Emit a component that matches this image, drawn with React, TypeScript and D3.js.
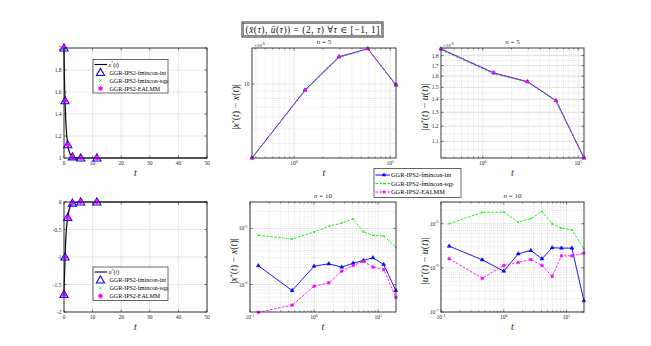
import React from "react";
import * as d3 from "d3";

// n = 5 nodes (linear panels)
const tNodes5 = [0, 0.365, 1.3, 2.94, 5.85, 11.5];
const xNodes5 = [2, 1.52, 1.12, 1.01, 1.0, 1.0];
const uNodes5 = [-1.68, -1.0, -0.28, -0.02, 0, 0];

// exact solution
const tStarX = [0, 0.15, 0.365, 0.7, 1.3, 2, 2.94, 4, 5.85, 50];
const xStar = [2, 1.74, 1.52, 1.3, 1.12, 1.045, 1.01, 1.003, 1.0, 1.0];
const tStarU = [0, 0.365, 0.7, 1.3, 2, 2.94, 5.85, 50];
const uStar = [-1.68, -1.0, -0.6, -0.28, -0.1, -0.02, 0, 0];

// n = 5 errors
const tLog5 = [0.365, 1.3, 2.94, 5.85, 11.5];
const errX5Int = [3.2e-6, 9.1e-6, 1.52e-5, 1.72e-5, 9.85e-6];
const errX5Sqp = [3.2e-6, 9.0e-6, 1.5e-5, 1.71e-5, 9.8e-6];
const errX5Ealmm = [3.2e-6, 9.1e-6, 1.52e-5, 1.72e-5, 9.85e-6];
const errU5Int = [1.87e-6, 1.63e-6, 1.55e-6, 1.39e-6, 1.0e-6];
const errU5Sqp = [1.86e-6, 1.62e-6, 1.545e-6, 1.385e-6, 1.0e-6];
const errU5Ealmm = [1.87e-6, 1.63e-6, 1.55e-6, 1.39e-6, 1.0e-6];

// n = 10 errors
const tLog10 = [0.135, 0.455, 1.0, 1.7, 2.7, 4.07, 5.9, 8.3, 12.2, 18.9];
const errX10Int = [2.16e-6, 7.8e-7, 2.12e-6, 2.34e-6, 2.04e-6, 2.4e-6, 2.68e-6, 2.99e-6, 2.28e-6, 7.8e-7];
const errX10Sqp = [7.5e-6, 6.5e-6, 8.6e-6, 1.09e-5, 1.24e-5, 1.47e-5, 8.6e-6, 7.5e-6, 7.3e-6, 4.6e-6];
const errX10Ealmm = [3.2e-7, 4.3e-7, 9.3e-7, 1.07e-6, 1.73e-6, 2.18e-6, 2.58e-6, 2.04e-6, 1.85e-6, 5.9e-7];
const errU10Int = [3.1e-6, 1.52e-6, 8.4e-7, 2.08e-6, 2.47e-6, 1.6e-6, 2.85e-6, 2.8e-6, 2.8e-6, 1.8e-7];
const errU10Sqp = [1e-5, 1.8e-5, 1.83e-5, 1.09e-5, 1.3e-5, 1.9e-5, 1e-5, 7.9e-6, 7.3e-6, 2.7e-6];
const errU10Ealmm = [1.6e-6, 5.8e-7, 1.13e-6, 1.32e-6, 1.55e-6, 1.13e-6, 6.4e-7, 1.87e-6, 1.87e-6, 2.15e-6];

// ticks
const linXTicks = [0, 10, 20, 30, 40, 50];
const xStateTicks = [1, 1.2, 1.4, 1.6, 1.8, 2];
const uCtrlTicks = [-2, -1.5, -1, -0.5, 0];
const errU5Ticks = [1.1, 1.2, 1.3, 1.4, 1.5, 1.6, 1.7, 1.8];
const legendNames = ["GGR-IPS2-fmincon-int", "GGR-IPS2-fmincon-sqp", "GGR-IPS2-EALMM"];

const FONT = "'Liberation Serif', 'DejaVu Serif', serif";
const BLUE = "#0000ff";
const GREEN = "#00ee00";
const MAGENTA = "#ff00ff";

type Mark = "tri" | "triOpen" | "x" | "sq" | "hex" | "none";
interface Series {
  t: number[];
  v: number[];
  color: string;
  dash?: string;
  line: boolean;
  mark: Mark;
  size: number;
  lw: number;
  curve?: boolean;
}
interface Tick {
  v: number;
  label?: React.ReactNode;
}

const pow = (e: string) => (
  <>
    10<tspan dy={-2.5} fontSize={4}>{e}</tspan>
  </>
);

function logMinors(lo: number, hi: number) {
  const out: number[] = [];
  const a = Math.floor(Math.log10(lo));
  const b = Math.ceil(Math.log10(hi));
  for (let d = a; d <= b; d++)
    for (let k = 2; k <= 9; k++) {
      const v = k * Math.pow(10, d);
      if (v > lo && v < hi) out.push(v);
    }
  return out;
}

function Marker({ mark, size, color, x, y }: { mark: Mark; size: number; color: string; x: number; y: number }) {
  const tr = `translate(${x},${y})`;
  if (mark === "none") return null;
  if (mark === "tri" || mark === "triOpen") {
    const d = d3.symbol(d3.symbolTriangle, size * size * 0.45)()!;
    return mark === "tri" ? (
      <path d={d} transform={tr} fill={color} stroke={color} strokeWidth={0.5} />
    ) : (
      <path d={d} transform={`${tr} translate(0,${size * 0.08})`} fill="none" stroke={color} strokeWidth={1.1} />
    );
  }
  if (mark === "x") {
    const d = d3.symbol(d3.symbolTimes, size * size * 0.5)()!;
    return <path d={d} transform={tr} fill="none" stroke={color} strokeWidth={0.8} />;
  }
  if (mark === "sq") {
    const d = d3.symbol(d3.symbolSquare, size * size * 0.8)()!;
    return <path d={d} transform={tr} fill={color} stroke={color} strokeWidth={0.4} />;
  }
  const d = d3.symbol(d3.symbolTriangle, size * size * 0.35)()!;
  return (
    <g transform={tr} fill={color} stroke={color} strokeWidth={0.4}>
      <path d={d} />
      <path d={d} transform="rotate(180)" />
    </g>
  );
}

interface PanelProps {
  x0: number;
  x1: number;
  y0: number;
  y1: number;
  xLog: boolean;
  yLog: boolean;
  xDom: [number, number];
  yDom: [number, number];
  xTicks: Tick[];
  yTicks: Tick[];
  xMinor?: number[];
  yMinor?: number[];
  series: Series[];
  title?: React.ReactNode;
  ylabel?: React.ReactNode;
  corner?: React.ReactNode;
}

function Panel(p: PanelProps) {
  const xs = (p.xLog ? d3.scaleLog() : d3.scaleLinear()).domain(p.xDom).range([p.x0, p.x1]);
  const ys = (p.yLog ? d3.scaleLog() : d3.scaleLinear()).domain(p.yDom).range([p.y1, p.y0]);
  const tl = 2.5;
  return (
    <g fontFamily={FONT}>
      <rect x={p.x0} y={p.y0} width={p.x1 - p.x0} height={p.y1 - p.y0} fill="#fff" />
      {(p.xMinor || []).map((v, i) => (
        <line key={"xm" + i} x1={xs(v)} x2={xs(v)} y1={p.y0} y2={p.y1} stroke="#cfcfcf" strokeWidth={0.5} strokeDasharray="1,1" />
      ))}
      {(p.yMinor || []).map((v, i) => (
        <line key={"ym" + i} x1={p.x0} x2={p.x1} y1={ys(v)} y2={ys(v)} stroke="#cfcfcf" strokeWidth={0.5} strokeDasharray="1,1" />
      ))}
      {p.xTicks.map((t, i) => (
        <line key={"xg" + i} x1={xs(t.v)} x2={xs(t.v)} y1={p.y0} y2={p.y1} stroke="#d6d6d6" strokeWidth={0.6} />
      ))}
      {p.yTicks.map((t, i) => (
        <line key={"yg" + i} x1={p.x0} x2={p.x1} y1={ys(t.v)} y2={ys(t.v)} stroke="#d6d6d6" strokeWidth={0.6} />
      ))}
      {p.series.map((s, si) => {
        const pts = s.t.map((t, i) => [xs(t), ys(s.v[i])] as [number, number]);
        const path = d3.line().curve(s.curve ? d3.curveMonotoneX : d3.curveLinear)(pts)!;
        return (
          <g key={"s" + si}>
            {s.line && <path d={path} fill="none" stroke={s.color} strokeWidth={s.lw} strokeDasharray={s.dash} />}
            {pts.map((q, i) => (
              <Marker key={i} mark={s.mark} size={s.size} color={s.color} x={q[0]} y={q[1]} />
            ))}
          </g>
        );
      })}
      <rect x={p.x0} y={p.y0} width={p.x1 - p.x0} height={p.y1 - p.y0} fill="none" stroke="#262626" strokeWidth={0.9} />
      {p.xTicks.map((t, i) => (
        <g key={"xt" + i}>
          <line x1={xs(t.v)} x2={xs(t.v)} y1={p.y1} y2={p.y1 - tl} stroke="#262626" strokeWidth={0.6} />
          <line x1={xs(t.v)} x2={xs(t.v)} y1={p.y0} y2={p.y0 + tl} stroke="#262626" strokeWidth={0.6} />
          {t.label !== undefined && (
            <text x={xs(t.v)} y={p.y1 + 7} fontSize={5.5} textAnchor="middle" fill="#262626">
              {t.label}
            </text>
          )}
        </g>
      ))}
      {(p.xLog ? p.xMinor || [] : []).map((v, i) => (
        <g key={"xmt" + i}>
          <line x1={xs(v)} x2={xs(v)} y1={p.y1} y2={p.y1 - 1.5} stroke="#262626" strokeWidth={0.5} />
          <line x1={xs(v)} x2={xs(v)} y1={p.y0} y2={p.y0 + 1.5} stroke="#262626" strokeWidth={0.5} />
        </g>
      ))}
      {p.yTicks.map((t, i) => (
        <g key={"yt" + i}>
          <line x1={p.x0} x2={p.x0 + tl} y1={ys(t.v)} y2={ys(t.v)} stroke="#262626" strokeWidth={0.6} />
          <line x1={p.x1} x2={p.x1 - tl} y1={ys(t.v)} y2={ys(t.v)} stroke="#262626" strokeWidth={0.6} />
          {t.label !== undefined && (
            <text x={p.x0 - 2.5} y={ys(t.v) + 2} fontSize={5.5} textAnchor="end" fill="#262626">
              {t.label}
            </text>
          )}
        </g>
      ))}
      {p.corner && (
        <text x={p.x0 + 2} y={p.y0 - 1.5} fontSize={5} fill="#262626">
          {p.corner}
        </text>
      )}
      {p.title && (
        <text x={(p.x0 + p.x1) / 2} y={p.y0 - 4} fontSize={7} textAnchor="middle" fill="#262626">
          {p.title}
        </text>
      )}
      <text x={(p.x0 + p.x1) / 2} y={p.y1 + 18} fontSize={10} fontStyle="italic" textAnchor="middle" fill="#262626">
        t
      </text>
      {p.ylabel && (
        <text
          transform={`translate(${p.x0 - 13},${(p.y0 + p.y1) / 2 + 4}) rotate(-90)`}
          fontSize={10}
          textAnchor="middle"
          fill="#262626"
        >
          {p.ylabel}
        </text>
      )}
    </g>
  );
}

function SmallLegend({ x, y, first }: { x: number; y: number; first: React.ReactNode }) {
  const w = 75;
  const h = 33.5;
  const rows = [y + 5, y + 13, y + 21, y + 29];
  return (
    <g fontFamily={FONT} fontSize={6}>
      <rect x={x} y={y} width={w} height={h} fill="#fff" stroke="#262626" strokeWidth={0.7} />
      <line x1={x + 1.5} x2={x + 14} y1={rows[0]} y2={rows[0]} stroke="#000" strokeWidth={1.1} />
      <text x={x + 15.5} y={rows[0] + 2}>{first}</text>
      <Marker mark="triOpen" size={8} color={BLUE} x={x + 7.5} y={rows[1]} />
      <Marker mark="x" size={3} color={GREEN} x={x + 7.5} y={rows[2]} />
      <Marker mark="hex" size={5} color={MAGENTA} x={x + 7.5} y={rows[3]} />
      {legendNames.map((n, i) => (
        <text key={n} x={x + 16.5} y={rows[i + 1] + 2}>
          {n}
        </text>
      ))}
    </g>
  );
}

function MainLegend({ x, y }: { x: number; y: number }) {
  const rows = [y + 6.5, y + 15, y + 23.5];
  const specs = [
    { color: BLUE, dash: undefined, mark: "tri" as Mark, size: 3.5 },
    { color: GREEN, dash: "2.5,1.5", mark: "x" as Mark, size: 2.5 },
    { color: MAGENTA, dash: "2.5,1.5", mark: "sq" as Mark, size: 2.5 },
  ];
  return (
    <g fontFamily={FONT} fontSize={6.4}>
      <rect x={x} y={y} width={87} height={29} fill="#fff" stroke="#262626" strokeWidth={0.7} />
      {specs.map((s, i) => (
        <g key={i}>
          <line x1={x + 1.5} x2={x + 16} y1={rows[i]} y2={rows[i]} stroke={s.color} strokeWidth={1} strokeDasharray={s.dash} />
          <Marker mark={s.mark} size={s.size} color={s.color} x={x + 10} y={rows[i]} />
          <text x={x + 17} y={rows[i] + 2.2}>
            {legendNames[i]}
          </text>
        </g>
      ))}
    </g>
  );
}

function logSeries(t: number[], a: number[], b: number[], c: number[]): Series[] {
  return [
    { t, v: a, color: BLUE, line: true, mark: "tri", size: 3.8, lw: 0.9 },
    { t, v: b, color: GREEN, dash: "2.5,1.5", line: true, mark: "x", size: 2.2, lw: 0.9 },
    { t, v: c, color: MAGENTA, dash: "2.5,1.5", line: true, mark: "sq", size: 2.8, lw: 0.9 },
  ];
}

function nodeSeries(tS: number[], vS: number[], t: number[], v: number[]): Series[] {
  return [
    { t: tS, v: vS, color: "#000", line: true, mark: "none", size: 0, lw: 1.2, curve: true },
    { t, v, color: BLUE, line: false, mark: "triOpen", size: 8, lw: 1 },
    { t, v, color: GREEN, line: false, mark: "x", size: 3, lw: 1 },
    { t, v, color: MAGENTA, line: false, mark: "hex", size: 5, lw: 1 },
  ];
}

const App = () => {
  const errXLabel = (
    <>
      |<tspan fontStyle="italic">x</tspan>
      <tspan dy={-3} fontSize={6}>*</tspan>
      <tspan dy={3}>(</tspan>
      <tspan fontStyle="italic">t</tspan>) − <tspan fontStyle="italic">x</tspan>(<tspan fontStyle="italic">t</tspan>)|
    </>
  );
  const errULabel = (
    <>
      |<tspan fontStyle="italic">u</tspan>
      <tspan dy={-3} fontSize={6}>*</tspan>
      <tspan dy={3}>(</tspan>
      <tspan fontStyle="italic">t</tspan>) − <tspan fontStyle="italic">u</tspan>(<tspan fontStyle="italic">t</tspan>)|
    </>
  );
  const corner = (
    <>
      ×10<tspan dy={-2} fontSize={3.8}>-6</tspan>
    </>
  );
  const nTitle = (n: string) => (
    <>
      <tspan fontStyle="italic">n</tspan> = {n}
    </>
  );
  const tlx = linXTicks.map((v) => ({ v, label: String(v) }));
  const dom5: [number, number] = [0.365, 11.5];
  const dom10: [number, number] = [0.1, 19];
  const bmY: [number, number] = [3.24e-7, 2.95e-5];
  const brY: [number, number] = [1e-7, 3.1e-5];
  const tmY: [number, number] = [3.2e-6, 1.74e-5];
  const trY: [number, number] = [1.0e-6, 1.88e-6];
  const trMinor = d3.range(1.0, 1.88, 0.05).map((v) => v * 1e-6);

  return (
    <svg width={651} height={346} style={{ position: "absolute", left: 0, top: 0, background: "#fff" }}>
      <rect width={651} height={346} fill="#fff" />
      {/* title box */}
      <g fontFamily={FONT} fontSize={9.6} fill="#111">
        <rect x={242} y={22} width={141} height={15} fill="#fff" stroke="#111" strokeWidth={0.9} />
        <rect x={243.3} y={23.3} width={138.4} height={12.4} fill="none" stroke="#111" strokeWidth={0.5} />
        <text x={245.5} y={33.2} textLength={134} lengthAdjust="spacing">
          (<tspan fontStyle="italic">x̄</tspan>(<tspan fontStyle="italic">τ</tspan>), <tspan fontStyle="italic">ū</tspan>(
          <tspan fontStyle="italic">τ</tspan>)) = (2, <tspan fontStyle="italic">τ</tspan>)    ∀
          <tspan fontStyle="italic">τ</tspan> ∈ [−1, 1]
        </text>
      </g>

      <Panel
        x0={64} x1={207} y0={48} y1={158}
        xLog={false} yLog={false}
        xDom={[0, 50]} yDom={[1, 2]}
        xTicks={tlx}
        yTicks={xStateTicks.map((v) => ({ v, label: String(v) }))}
        series={nodeSeries(tStarX, xStar, tNodes5, xNodes5)}
      />
      <SmallLegend
        x={93}
        y={59.5}
        first={
          <>
            <tspan fontStyle="italic">x</tspan>
            <tspan dy={-2.5} fontSize={4}>*</tspan>
            <tspan dy={2.5}>(</tspan>
            <tspan fontStyle="italic">t</tspan>)
          </>
        }
      />

      <Panel
        x0={252} x1={396} y0={48} y1={158}
        xLog yLog
        xDom={dom5} yDom={tmY}
        xTicks={[{ v: 1, label: pow("0") }, { v: 10, label: pow("1") }]}
        yTicks={[{ v: 1e-5, label: "10" }]}
        xMinor={logMinors(dom5[0], dom5[1])}
        yMinor={logMinors(tmY[0], tmY[1])}
        series={logSeries(tLog5, errX5Int, errX5Sqp, errX5Ealmm)}
        title={nTitle("5")}
        ylabel={errXLabel}
        corner={corner}
      />

      <Panel
        x0={441} x1={584} y0={48} y1={158}
        xLog yLog
        xDom={dom5} yDom={trY}
        xTicks={[{ v: 1, label: pow("0") }, { v: 10, label: pow("1") }]}
        yTicks={errU5Ticks.map((v) => ({ v: v * 1e-6, label: String(v) }))}
        xMinor={logMinors(dom5[0], dom5[1])}
        yMinor={trMinor}
        series={logSeries(tLog5, errU5Int, errU5Sqp, errU5Ealmm)}
        title={nTitle("5")}
        ylabel={errULabel}
        corner={corner}
      />

      <Panel
        x0={64} x1={207} y0={202} y1={312}
        xLog={false} yLog={false}
        xDom={[0, 50]} yDom={[-2, 0]}
        xTicks={tlx}
        yTicks={uCtrlTicks.map((v) => ({ v, label: String(v) }))}
        series={nodeSeries(tStarU, uStar, tNodes5, uNodes5)}
      />
      <SmallLegend
        x={93}
        y={267}
        first={
          <>
            <tspan fontStyle="italic">u</tspan>
            <tspan dy={-2.5} fontSize={4}>*</tspan>
            <tspan dy={2.5}>(</tspan>
            <tspan fontStyle="italic">t</tspan>)
          </>
        }
      />

      <Panel
        x0={250} x1={396} y0={202} y1={312}
        xLog yLog
        xDom={dom10} yDom={bmY}
        xTicks={[{ v: 0.1, label: pow("-1") }, { v: 1, label: pow("0") }, { v: 10, label: pow("1") }]}
        yTicks={[{ v: 1e-6, label: pow("-6") }, { v: 1e-5, label: pow("-5") }]}
        xMinor={logMinors(dom10[0], dom10[1])}
        yMinor={logMinors(bmY[0], bmY[1])}
        series={logSeries(tLog10, errX10Int, errX10Sqp, errX10Ealmm)}
        title={nTitle("10")}
        ylabel={errXLabel}
      />

      <Panel
        x0={441} x1={584} y0={202} y1={312}
        xLog yLog
        xDom={dom10} yDom={brY}
        xTicks={[{ v: 0.1, label: pow("-1") }, { v: 1, label: pow("0") }, { v: 10, label: pow("1") }]}
        yTicks={[{ v: 1e-7, label: pow("-7") }, { v: 1e-6, label: pow("-6") }, { v: 1e-5, label: pow("-5") }]}
        xMinor={logMinors(dom10[0], dom10[1])}
        yMinor={logMinors(brY[0], brY[1])}
        series={logSeries(tLog10, errU10Int, errU10Sqp, errU10Ealmm)}
        title={nTitle("10")}
        ylabel={errULabel}
      />

      <MainLegend x={374} y={168.5} />
    </svg>
  );
};

export default App;
